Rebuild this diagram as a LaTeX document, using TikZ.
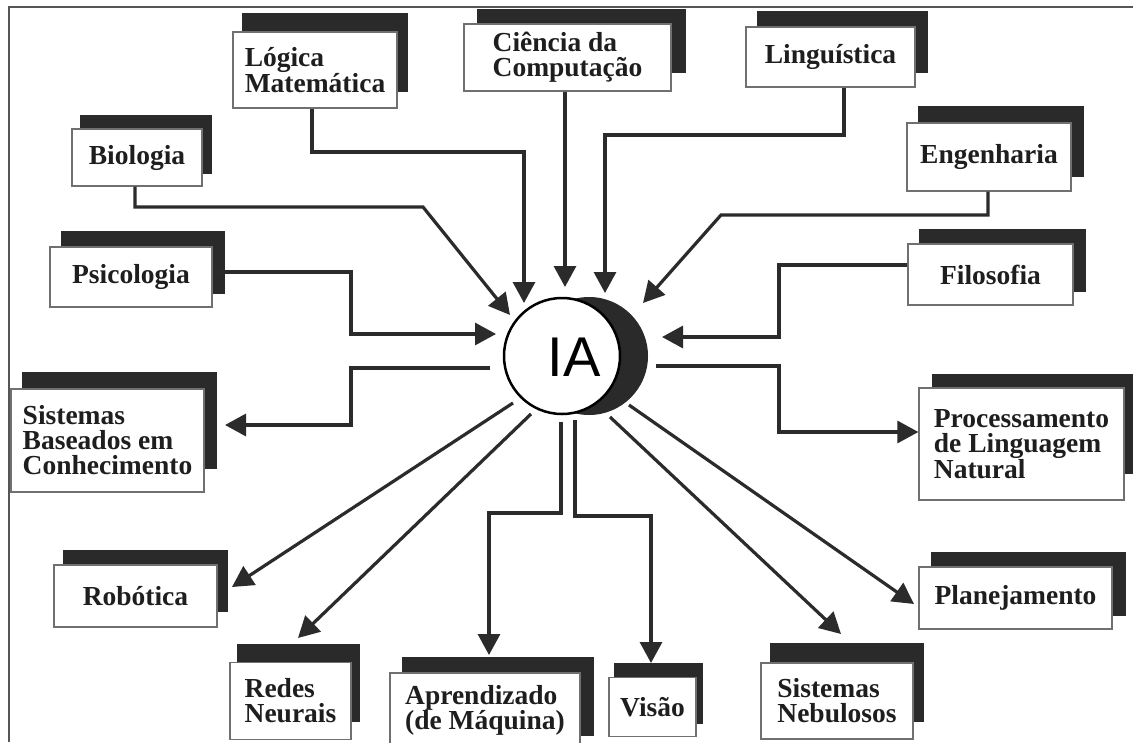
\documentclass[tikz,border=0pt]{standalone}
\usepackage{fontspec}
\setmainfont{Liberation Serif}
\newfontfamily\iafont{Liberation Sans}
\usetikzlibrary{arrows.meta,calc,backgrounds}
\definecolor{ink}{HTML}{2B2B2B}
\definecolor{shadowc}{HTML}{2A2A2A}
\definecolor{edgec}{HTML}{707070}
\definecolor{textc}{HTML}{1E1E1E}
\definecolor{framec}{HTML}{555555}
\newcommand{\shd}[4]{\fill[shadowc] ($(#1.north west)+(#2,#3)$) rectangle ($(#1.south east)+(#2,#4)$);}
\begin{document}
\begin{tikzpicture}[x=1pt,y=-1pt,
  conn/.style={draw=ink, line width=3.2pt, -{Triangle[length=21pt,width=22pt]}},
  box/.style={draw=edgec, line width=1.3pt, fill=white, inner sep=0pt,
    font=\bfseries\fontsize{27.5}{25}\selectfont, text=textc, align=left}]
\useasboundingbox (0,0) rectangle (1133,742);
\begin{pgfonlayer}{background}
\fill[white] (0,0) rectangle (1133,742);
\end{pgfonlayer}
\draw[framec, line width=1.5pt] (1133,7) -- (9,7) -- (9,742);

% boxes
\node[box, minimum width=164pt, minimum height=76pt] (log) at (315,70) {Lógica\\Matemática};
\node[box, minimum width=207pt, minimum height=67pt] (cie) at (567.5,57.5) {Ciência da\\Computação};
\node[box, minimum width=169pt, minimum height=60pt] (lin) at (830.5,57) {Linguística};
\node[box, minimum width=130pt, minimum height=57pt] (bio) at (137,157.5) {Biologia};
\node[box, minimum width=164pt, minimum height=68pt] (eng) at (989,157) {Engenharia};
\node[box, minimum width=162pt, minimum height=60pt] (psi) at (131,277) {Psicologia};
\node[box, minimum width=165pt, minimum height=61pt] (fil) at (990.5,274.5) {Filosofia};
\node[box, minimum width=193pt, minimum height=103pt] (sbc) at (107.5,440.5) {Sistemas\\Baseados em\\Conhecimento};
\node[box, minimum width=205pt, minimum height=112pt] (pln) at (1021.5,444) {Processamento\\de Linguagem\\Natural};
\node[box, minimum width=163pt, minimum height=62pt] (rob) at (135.5,596) {Robótica};
\node[box, minimum width=193pt, minimum height=62pt] (pla) at (1015.5,598) {Planejamento};
\node[box, minimum width=121pt, minimum height=77pt] (red) at (290.5,701) {Redes\\Neurais};
\node[box, minimum width=190pt, minimum height=74pt] (apr) at (485,710) {Aprendizado\\(de Máquina)};
\node[box, minimum width=87pt, minimum height=59pt] (vis) at (652.5,707) {Visão};
\node[box, minimum width=152pt, minimum height=76pt] (neb) at (837,701) {Sistemas\\Nebulosos};

\begin{pgfonlayer}{background}
\shd{log}{10}{-18}{-17}
\shd{cie}{14}{-14}{-19}
\shd{lin}{12}{-15}{-15}
\shd{bio}{9}{-13}{-13}
\shd{eng}{12}{-16}{-15}
\shd{psi}{12}{-15}{-14}
\shd{fil}{12}{-14}{-14}
\shd{sbc}{12}{-16}{-24}
\shd{pln}{14}{-13}{-27}
\shd{rob}{10}{-14}{-16}
\shd{pla}{13}{-14}{-14}
\shd{red}{8}{-18}{-18}
\shd{apr}{13}{-15}{-12}
\shd{vis}{6}{-14}{-13}
\shd{neb}{10}{-19}{-18}
\end{pgfonlayer}

% central IA
\node[circle, fill=shadowc, minimum size=118pt, inner sep=0pt] (iamoon) at (589,356) {};
\node[circle, draw=black, line width=2.5pt, fill=white, minimum size=116pt, inner sep=0pt] (ia) at (562,356) {};
\node[font=\iafont\fontsize{56}{56}\selectfont, text=black, inner sep=0pt] (ialbl) at (574,357) {IA};

% coordinates
\coordinate (b1) at (423,207);   \coordinate (tbio) at (510,315);
\coordinate (l0) at (312,152);   \coordinate (l1) at (524,152);   \coordinate (tlog) at (524,303);
\coordinate (tcie) at (565,287);
\coordinate (n1) at (844,135);   \coordinate (tlin) at (605,293);
\coordinate (e1) at (721,215);   \coordinate (teng) at (643,303);
\coordinate (p1) at (351,334);   \coordinate (tpsi) at (496,334);
\coordinate (f1) at (779,265);   \coordinate (tfil) at (662,337);
\coordinate (s0) at (490,368);   \coordinate (s1) at (351,425);  \coordinate (tsbc) at (225,425);
\coordinate (r0) at (656,366);   \coordinate (r1) at (779,432);
\coordinate (o0) at (513,403);   \coordinate (trob) at (232,587);
\coordinate (d0) at (531,414);   \coordinate (tred) at (298,638);
\coordinate (a0) at (561,422);   \coordinate (a1) at (489,513);  \coordinate (tapr) at (489,655);
\coordinate (v0) at (575,420);   \coordinate (v1) at (651,516);  \coordinate (tvis) at (651,663);
\coordinate (m0) at (610,417);   \coordinate (tneb) at (841,634);
\coordinate (q0) at (629,405);   \coordinate (tpla) at (914,604);

% incoming
\draw[conn] (bio.south -| 135,0) |- (b1) -- (tbio);
\draw[conn] (log.south -| l0) -- (l0) -- (l1) -- (tlog);
\draw[conn] (cie.south -| tcie) -- (tcie);
\draw[conn] (lin.south -| n1) -- (n1) -| (tlin);
\draw[conn] (eng.south -| 988,0) |- (e1) -- (teng);
\draw[conn] (psi.east |- 0,272) -| (p1) -- (tpsi);
\draw[conn] (fil.west |- f1) -- (f1) |- (tfil);
% outgoing
\draw[conn] (s0) -| (s1) -- (tsbc);
\draw[conn] (r0) -| (r1) -- (pln.west |- r1);
\draw[conn] (o0) -- (trob);
\draw[conn] (d0) -- (tred);
\draw[conn] (a0) |- (a1) -- (tapr);
\draw[conn] (v0) |- (v1) -- (tvis);
\draw[conn] (m0) -- (tneb);
\draw[conn] (q0) -- (tpla);
\end{tikzpicture}
\end{document}
